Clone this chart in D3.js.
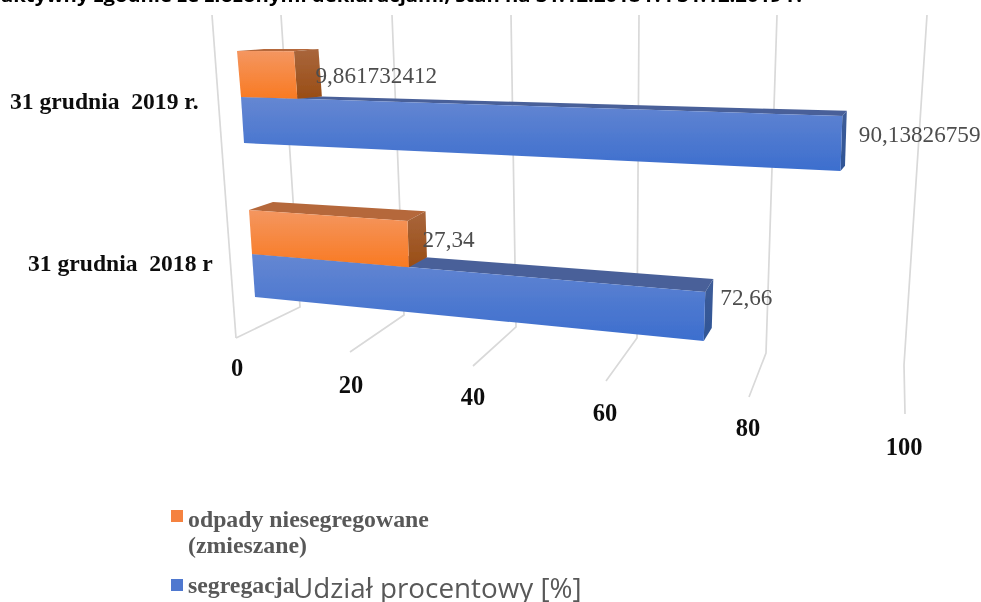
<!DOCTYPE html>
<html><head><meta charset="utf-8">
<script src="https://cdn.jsdelivr.net/npm/d3@7"></script>
<style>html,body{margin:0;padding:0;background:#fff;overflow:hidden}svg{display:block}</style>
</head><body><svg id="c" width="981" height="602"></svg>
<script>
// ---- data ----
const categories = ["31 grudnia  2019 r.", "31 grudnia  2018 r"];
const mixedWaste = [9.861732412, 27.34];
const segregated = [90.13826759, 72.66];
const mixedLabels = ["9,861732412", "27,34"];
const segregatedLabels = ["90,13826759", "72,66"];
const tickValues = [0, 20, 40, 60, 80, 100];
const seriesNames = ["odpady niesegregowane", "(zmieszane)", "segregacja"];
const axisTitle = "Udział procentowy [%]";
const chartTitle = "aktywny zgodnie ze złożonymi deklaracjami, stan na 31.12.2018 r. i 31.12.2019 r.";

// ---- projection of the 3-D plot: scales from value to page ----
const wallTopX  = d3.scaleLinear().domain(tickValues).range([281, 392, 511, 639, 777, 927]);
const wallBaseX = d3.scaleLinear().domain(tickValues).range([300, 404, 516, 637, 766, 904]);
const wallBaseY = d3.scaleLinear().domain(tickValues).range([307, 315, 327, 338, 353, 365]);
const floorX    = d3.scaleLinear().domain(tickValues).range([236, 350, 473, 606, 749, 905]);
const floorY    = d3.scaleLinear().domain(tickValues).range([338, 352, 366, 381, 397, 414]);
const labelX    = d3.scaleLinear().domain(tickValues).range([237, 351, 473, 605, 748, 904]);
const labelY    = d3.scaleLinear().domain(tickValues).range([376, 393, 405, 421, 436, 455]);
const wallTopY = 15;

// one geometry per row: three front edges (top, middle, bottom) and a depth offset
const rows = [
  { len: d3.scalePow().exponent(1.07).domain([0,100]).range([0,672]),
    x0:[237,241,244], y0:[51,97,143], slope:[0.004,0.0316,0.0469], stretch:[1.01,1,0.992],
    dx:d3.scaleLinear().domain([0,100]).range([27,2]), dy:d3.scaleLinear().domain([0,100]).range([-2,-5.5]) },
  { len: d3.scalePow().exponent(1.085).domain([0,100]).range([0,641]),
    x0:[249,252,255], y0:[210,254,297], slope:[0.07,0.084,0.098], stretch:[1.01,1,0.99],
    dx:d3.scaleLinear().domain([0,100]).range([24,2]), dy:d3.scaleLinear().domain([0,100]).range([-8,-15]) }
];
function front(r, level, v){
  const g = rows[r], w = g.len(v) * g.stretch[level];
  return [g.x0[level] + w, g.y0[level] + g.slope[level] * w];
}
function back(r, level, v){
  const g = rows[r], p = front(r, level, v);
  return [p[0] + g.dx(v), p[1] + g.dy(v)];
}

// ---- drawing ----
const svg = d3.select("#c");
const defs = svg.append("defs");
defs.append("filter").attr("id","soft").attr("x","-5%").attr("y","-5%").attr("width","110%").attr("height","110%")
    .append("feGaussianBlur").attr("stdDeviation",0.55);
function grad(id, a, b){
  const g = defs.append("linearGradient").attr("id",id).attr("x1",0).attr("y1",0).attr("x2",0).attr("y2",1);
  g.append("stop").attr("offset",0).attr("stop-color",a);
  g.append("stop").attr("offset",1).attr("stop-color",b);
}
grad("oF","#f49660","#f97a22"); grad("oS","#a9663c","#994d15");
grad("bF","#6587d2","#3c6ece"); grad("bS","#3e5c98","#2f5596");

const root = svg.append("g").attr("filter","url(#soft)");
const line = d3.line();

// title, cut by the top edge of the picture
root.append("text").text(chartTitle)
  .attr("x",1).attr("y",2).attr("textLength",801).attr("lengthAdjust","spacingAndGlyphs")
  .attr("font-family","'Open Sans',sans-serif").attr("font-weight",700).attr("font-size",17).attr("fill","#000");

// gridlines
const grid = root.append("g").attr("fill","none").attr("stroke","#d9d9d9").attr("stroke-width",1.7);
grid.selectAll("path").data(tickValues).join("path")
  .attr("d", v => line([[wallTopX(v),wallTopY],[wallBaseX(v),wallBaseY(v)],[floorX(v),floorY(v)]]));
grid.append("path").attr("d", line([[wallTopX(0)-69,wallTopY],[floorX(0),floorY(0)]]));

// bars
function bar(r, top, bottom, v, f, s, t, name){
  const zero = 0;
  const g = root.append("g").attr("class",name);
  g.append("path").attr("fill",t).attr("d", line([front(r,top,zero),back(r,top,zero),back(r,top,v),front(r,top,v)])+"Z");
  g.append("path").attr("fill",s).attr("d", line([front(r,top,v),back(r,top,v),back(r,bottom,v),front(r,bottom,v)])+"Z");
  g.append("path").attr("fill",f).attr("d", line([front(r,top,zero),front(r,top,v),front(r,bottom,v),front(r,bottom,zero)])+"Z");
}
categories.forEach((c,r)=>{
  bar(r,1,2,segregated[r],"url(#bF)","url(#bS)","#4a6199","seg");
  bar(r,0,1,mixedWaste[r],"url(#oF)","url(#oS)","#b5683b","mix");
});

// data labels
const serif = "'Liberation Serif','Times New Roman',serif";
function dataLabel(txt, r, level, v, ox, oy){
  const p = back(r, level, v);
  root.append("text").text(txt).attr("x",p[0]+ox).attr("y",p[1]+oy)
    .attr("font-family",serif).attr("font-size",23.2).attr("fill","#4d4d4d");
}
categories.forEach((c,r)=>{
  dataLabel(mixedLabels[r], r, 0, mixedWaste[r], -3, r===0?34:36);
  dataLabel(segregatedLabels[r], r, 1, segregated[r], r===0?12:7, r===0?31:26);
});

// tick labels
root.append("g").selectAll("text").data(tickValues).join("text")
  .text(d=>d).attr("x",labelX).attr("y",labelY).attr("text-anchor","middle")
  .attr("font-family",serif).attr("font-weight",700).attr("font-size",24.5).attr("fill","#111");

// category labels
const catX = [10, 28], catY = [109, 271];
root.append("g").selectAll("text").data(categories).join("text")
  .text(d=>d).attr("x",(d,i)=>catX[i]).attr("y",(d,i)=>catY[i])
  .style("white-space","pre")
  .attr("font-family",serif).attr("font-weight",700).attr("font-size",23.6).attr("fill","#111");

// legend
root.append("rect").attr("x",171).attr("y",510).attr("width",12).attr("height",12).attr("fill","#f58240");
root.append("rect").attr("x",171).attr("y",579).attr("width",12).attr("height",12).attr("fill","#4f78cf");
const legendY = [527, 553, 593];
root.append("g").selectAll("text").data(seriesNames).join("text")
  .text(d=>d).attr("x",188).attr("y",(d,i)=>legendY[i])
  .attr("font-family",serif).attr("font-weight",700).attr("font-size",23.8).attr("fill","#595959");

// axis title, overlapping the legend as in the source
root.append("text").text(axisTitle).attr("x",293).attr("y",598)
  .attr("font-family","'Open Sans',sans-serif").attr("font-size",27.8).attr("fill","#595959");
</script></body></html>
